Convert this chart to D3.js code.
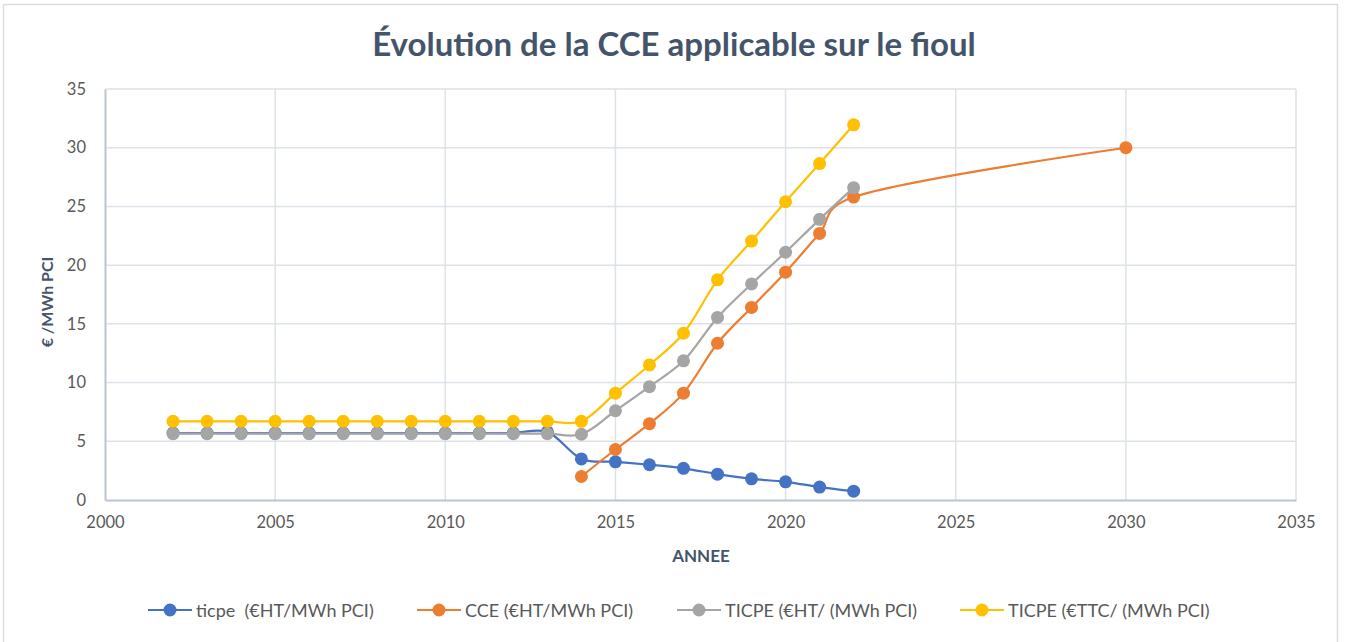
<!DOCTYPE html>
<html lang="fr">
<head>
<meta charset="UTF-8">
<title>Évolution de la CCE applicable sur le fioul</title>
<style>
  body { margin: 0; background: #fff; }
  svg { display: block; font-family: Lato, "Open Sans", sans-serif; }
</style>
</head>
<body>
<svg id="chart"></svg>
<script src="https://cdn.jsdelivr.net/npm/d3@7"></script>
<script>
// data
const yearsOld = [2002, 2003, 2004, 2005, 2006, 2007, 2008, 2009, 2010, 2011, 2012, 2013];
const yearsNew = [2014, 2015, 2016, 2017, 2018, 2019, 2020, 2021, 2022];

const ticpe = [5.7, 5.7, 5.7, 5.7, 5.7, 5.7, 5.7, 5.7, 5.7, 5.7, 5.7, 5.8,
               3.5, 3.25, 3.0, 2.7, 2.2, 1.8, 1.55, 1.1, 0.75];
const cceYears = [2014, 2015, 2016, 2017, 2018, 2019, 2020, 2021, 2022, 2030];
const cce = [2.0, 4.3, 6.5, 9.1, 13.35, 16.4, 19.4, 22.7, 25.8, 30.0];
const ticpeHT = [5.65, 5.65, 5.65, 5.65, 5.65, 5.65, 5.65, 5.65, 5.65, 5.65, 5.65, 5.65,
                 5.6, 7.6, 9.65, 11.85, 15.55, 18.4, 21.1, 23.9, 26.6];
const ticpeTTC = [6.7, 6.7, 6.7, 6.7, 6.7, 6.7, 6.7, 6.7, 6.7, 6.7, 6.7, 6.7,
                  6.7, 9.1, 11.5, 14.2, 18.75, 22.05, 25.4, 28.65, 31.95];

const seriesNames = ["ticpe  (€HT/MWh PCI)", "CCE (€HT/MWh PCI)", "TICPE (€HT/ (MWh PCI)", "TICPE (€TTC/ (MWh PCI)"];
const seriesColors = ["#4472c4", "#ed7d31", "#a5a5a5", "#ffc000"];

const xTicks = [2000, 2005, 2010, 2015, 2020, 2025, 2030, 2035];
const yTicks = [0, 5, 10, 15, 20, 25, 30, 35];

const W = 1346, H = 642;
const m = { left: 105, right: 50, top: 89, bottom: 142 };

const allYears = yearsOld.concat(yearsNew);
const series = [
  { name: seriesNames[0], color: seriesColors[0], pts: allYears.map((x, i) => [x, ticpe[i]]) },
  { name: seriesNames[1], color: seriesColors[1], pts: cceYears.map((x, i) => [x, cce[i]]) },
  { name: seriesNames[2], color: seriesColors[2], pts: allYears.map((x, i) => [x, ticpeHT[i]]) },
  { name: seriesNames[3], color: seriesColors[3], pts: allYears.map((x, i) => [x, ticpeTTC[i]]) }
];

const svg = d3.select("#chart").attr("width", W).attr("height", H);

// outer frame
svg.append("rect")
  .attr("x", 3.5).attr("y", 4.5)
  .attr("width", 1334).attr("height", 640)
  .attr("fill", "#fff").attr("stroke", "#d9dde3").attr("stroke-width", 1.5);

const x = d3.scaleLinear().domain([2000, 2035]).range([m.left, W - m.right]);
const y = d3.scaleLinear().domain([0, 35]).range([H - m.bottom, m.top]);

// grid
svg.append("g")
  .selectAll("line.h")
  .data(yTicks.filter(d => d > 0))
  .join("line")
  .attr("x1", x(2000)).attr("x2", x(2035))
  .attr("y1", d => y(d)).attr("y2", d => y(d))
  .attr("stroke", "#dde2ea").attr("stroke-width", 1.5);

svg.append("g")
  .selectAll("line.v")
  .data(xTicks.filter(d => d > 2000))
  .join("line")
  .attr("x1", d => x(d)).attr("x2", d => x(d))
  .attr("y1", y(0)).attr("y2", y(35))
  .attr("stroke", "#dde2ea").attr("stroke-width", 1.5);

// axes
const xAxis = svg.append("g")
  .attr("transform", `translate(0,${y(0)})`)
  .call(d3.axisBottom(x).tickValues(xTicks).tickFormat(d3.format("d")).tickSize(0).tickPadding(16));
const yAxis = svg.append("g")
  .attr("transform", `translate(${x(2000)},0)`)
  .call(d3.axisLeft(y).tickValues(yTicks).tickSize(0).tickPadding(19));

xAxis.select(".domain").attr("stroke", "#bac4d4").attr("stroke-width", 2);
yAxis.select(".domain").attr("stroke", "#bac4d4").attr("stroke-width", 2);
svg.selectAll(".tick text")
  .attr("fill", "#595959")
  .style("font-size", "16.5px")
  .style("font-family", "Lato, sans-serif");

// titles
svg.append("text")
  .attr("x", 674).attr("y", 56)
  .attr("text-anchor", "middle")
  .attr("fill", "#44546a")
  .style("font-size", "33px").style("font-weight", "bold")
  .text("Évolution de la CCE applicable sur le fioul");

svg.append("text")
  .attr("x", 701).attr("y", 562)
  .attr("text-anchor", "middle")
  .attr("fill", "#44546a")
  .style("font-size", "17px").style("font-weight", "bold")
  .text("ANNEE");

svg.append("text")
  .attr("transform", "translate(53,302) rotate(-90)")
  .attr("text-anchor", "middle")
  .attr("fill", "#44546a")
  .style("font-size", "16px").style("font-weight", "bold")
  .text("€ /MWh PCI");

// lines and markers (smoothed like the spreadsheet lines)
const line = d3.line()
  .x(d => x(d[0])).y(d => y(d[1]))
  .curve(d3.curveCatmullRom.alpha(0.2));

const g = svg.append("g");
series.forEach(s => {
  g.append("path")
    .datum(s.pts)
    .attr("fill", "none")
    .attr("stroke", s.color)
    .attr("stroke-width", 2.2)
    .attr("d", line);
  g.selectAll(null)
    .data(s.pts)
    .join("circle")
    .attr("cx", d => x(d[0])).attr("cy", d => y(d[1]))
    .attr("r", 6.5)
    .attr("fill", s.color);
});

// legend
const legendX = [148, 417, 677, 960];
const leg = svg.append("g");
series.forEach((s, i) => {
  const lg = leg.append("g").attr("transform", `translate(${legendX[i]},610)`);
  lg.append("line").attr("x1", 0).attr("x2", 44).attr("y1", 0).attr("y2", 0)
    .attr("stroke", s.color).attr("stroke-width", 2.2);
  lg.append("circle").attr("cx", 22).attr("cy", 0).attr("r", 6.5).attr("fill", s.color);
  lg.append("text").attr("x", 48).attr("y", 6.5)
    .attr("fill", "#595959")
    .style("font-size", "18px")
    .style("white-space", "pre")
    .text(s.name);
});
</script>
</body>
</html>
